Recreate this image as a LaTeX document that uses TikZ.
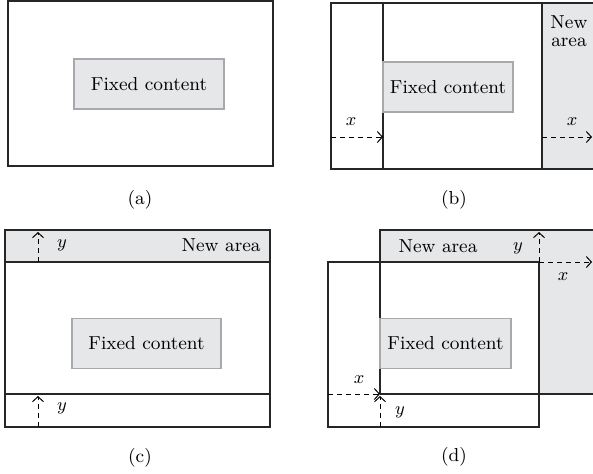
\documentclass[tikz,border=0pt]{standalone}
\usetikzlibrary{arrows.meta}
\definecolor{areagray}{HTML}{E6E7E8}
\definecolor{boxedge}{HTML}{A7A9AC}
\tikzset{
  frame/.style={line width=0.7pt, draw=black!85},
  fixedbox/.style={draw=boxedge, fill=areagray, line width=0.6pt, inner sep=0pt,
    minimum height=25pt, font=\fontsize{9.4}{11}\selectfont},
  shiftarrow/.style={line width=0.5pt, dash pattern=on 2.5pt off 2pt,
    -{Straight Barb[length=2.5pt, width=5.5pt]}},
  lbl/.style={font=\fontsize{9.4}{11}\selectfont, inner sep=0pt},
}
\begin{document}
\begin{tikzpicture}[x=0.5pt, y=-0.5pt]
  \useasboundingbox (0,0) rectangle (593,473);
  \clip (0,0) rectangle (593,473);

  % Panel (a): page with fixed content
  \draw[frame] (8,1) rectangle (273,166);
  \node[fixedbox, minimum width=75pt] (fixA) at (149,84) {Fixed content};
  \node[lbl] (capA) at (140,200) {(a)};

  % Panel (b): shift to the right
  \fill[areagray] (542,3) rectangle (600,169);
  \draw[frame] (331,3) rectangle (600,169);
  \draw[frame] (383,3) -- (383,169);
  \draw[frame] (542,3) -- (542,169);
  \node[fixedbox, minimum width=65pt] (fixB) at (448,87) {Fixed content};
  \node[lbl, align=center, font=\fontsize{9.4}{9}\selectfont] (newB) at (569,31) {New\\area};
  \coordinate (bLa) at (331,137);
  \coordinate (bLb) at (383,137);
  \coordinate (bRa) at (542,137);
  \coordinate (bRb) at (592,137);
  \draw[shiftarrow] (bLa) -- (bLb);
  \draw[shiftarrow] (bRa) -- (bRb);
  \node[lbl] (xBL) at (351,122) {$x$};
  \node[lbl] (xBR) at (572,122) {$x$};
  \node[lbl] (capB) at (454,200) {(b)};

  % Panel (c): shift upwards
  \fill[areagray] (5,230) rectangle (270,262);
  \draw[frame] (5,230) rectangle (270,427);
  \draw[frame] (5,262) -- (270,262);
  \draw[frame] (5,394) -- (270,394);
  \node[fixedbox, minimum width=74.5pt] (fixC) at (146.5,343.5) {Fixed content};
  \node[lbl, anchor=east] (newC) at (261,245) {New area};
  \coordinate (cTa) at (38,262);
  \coordinate (cTb) at (38,232);
  \coordinate (cBa) at (38,427);
  \coordinate (cBb) at (38,396);
  \draw[shiftarrow] (cTa) -- (cTb);
  \draw[shiftarrow] (cBa) -- (cBb);
  \node[lbl] (yCT) at (62,245) {$y$};
  \node[lbl] (yCB) at (62,408) {$y$};
  \node[lbl] (capC) at (140,458) {(c)};

  % Panel (d): shift to the right and upwards
  \fill[areagray] (380,230) rectangle (600,394);
  \fill[white] (380,262) rectangle (539,394);
  \draw[frame] (380,394) -- (380,230) -- (600,230);
  \draw[frame] (380,394) -- (600,394);
  \draw[frame] (328,262) rectangle (539,427);
  \node[fixedbox, minimum width=65.5pt] (fixD) at (445.5,343.5) {Fixed content};
  \node[lbl] (newD) at (438,246) {New area};
  \coordinate (dTc) at (539,262);
  \coordinate (dTu) at (539,232);
  \coordinate (dTr) at (592,262);
  \coordinate (dBl) at (328,394);
  \coordinate (dBc) at (380,394);
  \coordinate (dBd) at (380,427);
  \coordinate (dBu) at (380,396);
  \draw[shiftarrow] (dTc) -- (dTu);
  \draw[shiftarrow] (dTc) -- (dTr);
  \draw[shiftarrow] (dBl) -- (dBc);
  \draw[shiftarrow] (dBd) -- (dBu);
  \node[lbl] (yDT) at (518,248) {$y$};
  \node[lbl] (xDT) at (563,277) {$x$};
  \node[lbl] (xDB) at (359,380) {$x$};
  \node[lbl] (yDB) at (400,412) {$y$};
  \node[lbl] (capD) at (454,457) {(d)};
\end{tikzpicture}
\end{document}
